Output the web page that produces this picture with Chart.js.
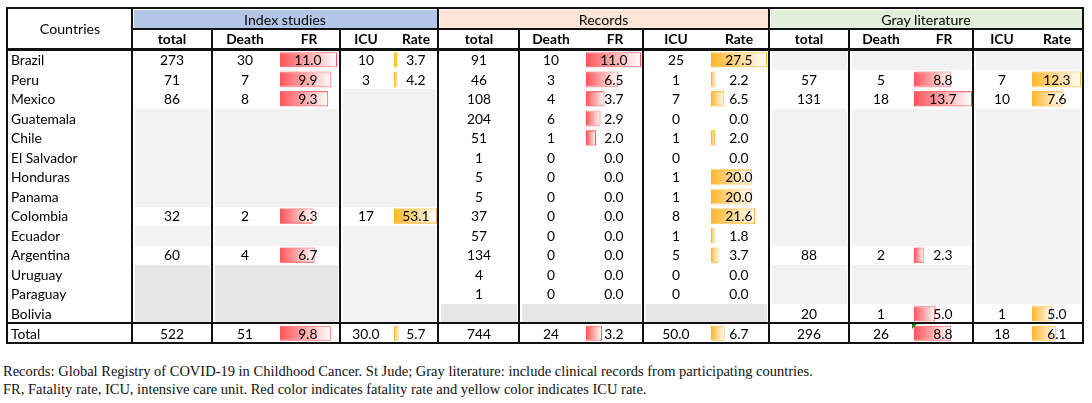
<!DOCTYPE html>
<html>
<head>
<meta charset="utf-8">
<script src="https://cdn.jsdelivr.net/npm/chart.js@4.4.1/dist/chart.umd.min.js"></script>
<style>
  html, body { margin:0; padding:0; background:#fff; }
  #root { position:relative; width:1092px; height:403px; overflow:hidden; font-family:'Lato','Noto Sans',sans-serif; color:#000; }
  .t { position:absolute; white-space:nowrap; font-size:13.8px; }
  .ln { position:absolute; background:#111; }
  .fill { position:absolute; }
  canvas.bars { position:absolute; }
  .note { position:absolute; left:3px; font-family:'Liberation Serif','DejaVu Serif',serif; font-size:14.5px; color:#111; white-space:nowrap; }
</style>
</head>
<body>
<div id="root"></div>
<script>
// ---------------- DATA ----------------
const countries = ['Brazil','Peru','Mexico','Guatemala','Chile','El Salvador','Honduras','Panama','Colombia','Ecuador','Argentina','Uruguay','Paraguay','Bolivia','Total'];
const groupNames = ['Index studies','Records','Gray literature'];
const subHeaders = ['total','Death','FR','ICU','Rate'];

// Index studies
const idxTotal = [273, 71, 86, null, null, null, null, null, 32, null, 60, null, null, null, 522];
const idxDeath = [30, 7, 8, null, null, null, null, null, 2, null, 4, null, null, null, 51];
const idxFR    = [11.0, 9.9, 9.3, null, null, null, null, null, 6.3, null, 6.7, null, null, null, 9.8];
const idxICU   = [10, 3, null, null, null, null, null, null, 17, null, null, null, null, null, '30.0'];
const idxRate  = [3.7, 4.2, null, null, null, null, null, null, 53.1, null, null, null, null, null, 5.7];

// Records
const recTotal = [91, 46, 108, 204, 51, 1, 5, 5, 37, 57, 134, 4, 1, null, 744];
const recDeath = [10, 3, 4, 6, 1, 0, 0, 0, 0, 0, 0, 0, 0, null, 24];
const recFR    = [11.0, 6.5, 3.7, 2.9, 2.0, 0.0, 0.0, 0.0, 0.0, 0.0, 0.0, 0.0, 0.0, null, 3.2];
const recICU   = [25, 1, 7, 0, 1, 0, 1, 1, 8, 1, 5, 0, 0, null, '50.0'];
const recRate  = [27.5, 2.2, 6.5, 0.0, 2.0, 0.0, 20.0, 20.0, 21.6, 1.8, 3.7, 0.0, 0.0, null, 6.7];

// Gray literature
const grayTotal = [null, 57, 131, null, null, null, null, null, null, null, 88, null, null, 20, 296];
const grayDeath = [null, 5, 18, null, null, null, null, null, null, null, 2, null, null, 1, 26];
const grayFR    = [null, 8.8, 13.7, null, null, null, null, null, null, null, 2.3, null, null, 5.0, 8.8];
const grayICU   = [null, 7, 10, null, null, null, null, null, null, null, null, null, null, 1, 18];
const grayRate  = [null, 12.3, 7.6, null, null, null, null, null, null, null, null, null, null, 5.0, 6.1];

const footnote1 = 'Records: Global Registry of COVID-19 in Childhood Cancer. St Jude; Gray literature: include clinical records from participating countries.';
const footnote2 = 'FR, Fatality rate, ICU, intensive care unit. Red color indicates fatality rate and yellow color indicates ICU rate.';

// ---------------- LAYOUT ----------------
const root = document.getElementById('root');
const RED = '#FF555A', ORANGE = '#FFB628';
const TOP = 8, H1 = 29, H2 = 49.5, ROW0 = 50, RH = 19.5, NROWS = 14;
const TOTAL_LINE = 322.5, BOTTOM = 343;
const L0 = 7, LC = 132, RIGHT = 1083;

const groups = [
  { name: groupNames[0], total: idxTotal, death: idxDeath, fr: idxFR, icu: idxICU, rate: idxRate,
    lines: [132, 212, 340, 438], totalX: 172, deathX: 245, frX: 308, icuX: 366, rateX: 416,
    frBar: [280, 337], rateBar: [394, 437], band: '#B4C6E7', darkRows: [[11,12,13],[11,12,13],[]] },
  { name: groupNames[1], total: recTotal, death: recDeath, fr: recFR, icu: recICU, rate: recRate,
    lines: [438, 519, 643, 769], totalX: 479, deathX: 551, frX: 614, icuX: 676, rateX: 739,
    frBar: [586, 641], rateBar: [711, 767], band: '#FCE4D6', darkRows: [[13],[13],[13]] },
  { name: groupNames[2], total: grayTotal, death: grayDeath, fr: grayFR, icu: grayICU, rate: grayRate,
    lines: [769, 849, 973, 1083], totalX: 809, deathX: 881, frX: 943, icuX: 1002, rateX: 1057,
    frBar: [914, 972], rateBar: [1032, 1081], band: '#E2EFDA', darkRows: [[],[],[]] }
];

function el(cls, css, text) {
  const d = document.createElement('div');
  d.className = cls;
  Object.assign(d.style, css);
  if (text != null) d.textContent = text;
  root.appendChild(d);
  return d;
}
function hline(y, x1, x2, w) { el('ln', { left: x1 + 'px', top: (y - w / 2) + 'px', width: (x2 - x1) + 'px', height: w + 'px' }); }
function vline(x, y1, y2, w) { el('ln', { left: (x - w / 2) + 'px', top: y1 + 'px', width: w + 'px', height: (y2 - y1) + 'px' }); }
function rect(x, y, w, h, c) { el('fill', { left: x + 'px', top: y + 'px', width: w + 'px', height: h + 'px', background: c }); }
function rowTop(i) { return i < NROWS ? ROW0 + i * RH : TOTAL_LINE + 1; }
function text(str, x, i, align, extra) {
  const top = (typeof i === 'number') ? rowTop(i) : i.top;
  const h = (typeof i === 'number') ? RH : i.h;
  const css = Object.assign({ top: top + 'px', height: h + 'px', lineHeight: h + 'px' }, extra || {});
  if (align === 'left') { css.left = x + 'px'; }
  else { css.left = (x - 60) + 'px'; css.width = '120px'; css.textAlign = 'center'; }
  el('t', css, str);
}
const fmt1 = v => (typeof v === 'number') ? v.toFixed(1) : v;
const fmt0 = v => v;

// header bands
groups.forEach(g => {
  rect(g.lines[0] + 2, TOP + 1.5, g.lines[3] - g.lines[0] - 3.5, H1 - TOP - 2.5, g.band);
});

// gray empty cells
groups.forEach(g => {
  const blocks = [g.total, g.death, g.icu];
  blocks.forEach((vals, b) => {
    const x1 = g.lines[b], x2 = g.lines[b + 1];
    for (let r = 0; r < NROWS; r++) {
      if (vals[r] === null) {
        const dark = g.darkRows[b].indexOf(r) >= 0;
        rect(x1 + 2.5, rowTop(r), x2 - x1 - 5, RH + 0.5, dark ? '#E7E6E6' : '#F2F2F2');
      }
    }
  });
});

// bar charts (data bars)
function makeBars(values, range, color) {
  const c = document.createElement('canvas');
  c.className = 'bars';
  const w = range[1] - range[0] + 2;
  const h = RH * 15;
  c.width = w; c.height = h;
  c.style.left = (range[0] - 1) + 'px';
  c.style.top = ROW0 + 'px';
  c.style.width = w + 'px'; c.style.height = h + 'px';
  root.appendChild(c);
  const max = Math.max(...values.filter(v => v !== null));
  new Chart(c, {
    type: 'bar',
    data: {
      labels: countries,
      datasets: [{
        data: values,
        backgroundColor: (ctx) => {
          const chart = ctx.chart;
          if (!chart.chartArea || ctx.type !== 'data' || ctx.raw == null) return color;
          const xs = chart.scales.x;
          const x0 = xs.getPixelForValue(0), x1 = xs.getPixelForValue(ctx.raw);
          if (x1 - x0 < 1) return color;
          const gr = chart.ctx.createLinearGradient(x0, 0, x1, 0);
          gr.addColorStop(0, color);
          gr.addColorStop(1, '#FFFFFF');
          return gr;
        },
        borderColor: color,
        borderWidth: 1,
        borderSkipped: false,
        barPercentage: 0.78,
        categoryPercentage: 1
      }]
    },
    options: {
      indexAxis: 'y',
      responsive: false,
      animation: false,
      events: [],
      layout: { padding: { left: 1, right: 1, top: 0, bottom: 0 } },
      plugins: { legend: { display: false }, tooltip: { enabled: false } },
      scales: {
        x: { display: false, min: 0, max: max },
        y: { display: false }
      }
    }
  });
}
groups.forEach(g => {
  makeBars(g.fr, g.frBar, RED);
  makeBars(g.rate, g.rateBar, ORANGE);
});

// green error-indicator triangle
el('fill', { left: '912px', top: '323px', width: '0', height: '0', borderTop: '6px solid #1E7B1E', borderRight: '6px solid transparent' });

// grid lines
hline(TOP, L0 - 1.25, RIGHT + 1.25, 2.5);
hline(H1, LC, RIGHT, 1.5);
hline(H2, L0 - 1.25, RIGHT + 1.25, 2.5);
hline(TOTAL_LINE, L0 - 1.25, RIGHT + 1.25, 2);
hline(BOTTOM, L0 - 1.25, RIGHT + 1.25, 2.5);
vline(L0, TOP, BOTTOM, 2.5);
vline(LC, TOP, BOTTOM, 2.5);
groups.forEach((g, gi) => {
  vline(g.lines[1], H1, BOTTOM, 1.6);
  vline(g.lines[2], H1, BOTTOM, 1.8);
  vline(g.lines[3], TOP, BOTTOM, 2.5);
});

// header texts
text('Countries', 70, { top: TOP, h: H2 - TOP }, 'center', { fontSize: '14.2px' });
groups.forEach(g => {
  text(g.name, (g.lines[0] + g.lines[3]) / 2, { top: TOP + 0.5, h: H1 - TOP }, 'center', { fontSize: '14.2px' });
  const xs = [g.totalX, g.deathX, g.frX + 1, g.icuX, g.rateX];
  subHeaders.forEach((s, k) => text(s, xs[k], { top: H1, h: H2 - H1 }, 'center', { fontWeight: 'bold' }));
});

// body texts
countries.forEach((c, r) => text(c, 11, r, 'left'));
groups.forEach(g => {
  for (let r = 0; r < countries.length; r++) {
    if (g.total[r] !== null) text(String(fmt0(g.total[r])), g.totalX, r, 'center');
    if (g.death[r] !== null) text(String(fmt0(g.death[r])), g.deathX, r, 'center');
    if (g.fr[r] !== null) text(fmt1(g.fr[r]), g.frX, r, 'center');
    if (g.icu[r] !== null) text(String(g.icu[r]), g.icuX, r, 'center');
    if (g.rate[r] !== null) text(fmt1(g.rate[r]), g.rateX, r, 'center');
  }
});

// footnotes
el('note', { top: '363px', lineHeight: '17px' }, footnote1);
el('note', { top: '381px', lineHeight: '17px' }, footnote2);
</script>
</body>
</html>
